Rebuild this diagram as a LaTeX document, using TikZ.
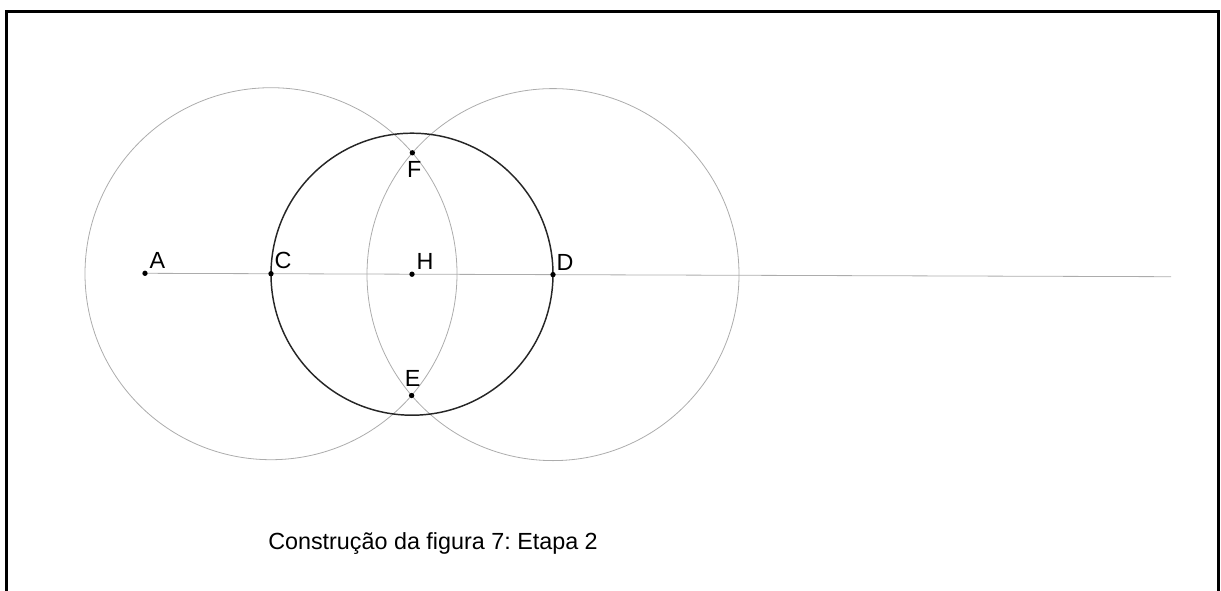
\documentclass[tikz,border=0pt]{standalone}
\usepackage{fontspec}
\setmainfont{Liberation Sans}
\usetikzlibrary{calc,intersections}

\tikzset{
    ponto/.style={circle, fill=black, inner sep=0pt, minimum size=4pt},
    rotulo/.style={font=\fontsize{17.5}{20}\selectfont, inner sep=1pt},
    auxiliar/.style={gray!65, line width=0.6pt},
}

\begin{document}
\frenchspacing
\begin{tikzpicture}[x=0.75pt, y=-0.75pt]
    \useasboundingbox (0,0) rectangle (1221,590);
    % Frame
    \draw[line width=2pt] (6.5,592) -- (6.5,11.5) -- (1218.5,11.5) -- (1218.5,592);
    % Points on the line
    \coordinate (Z) at (1171,276.7);
    \coordinate (A) at (145,273.3);
    \coordinate (C) at (271,273.7);
    \coordinate (H) at (412,274.2);
    \coordinate (D) at (553,274.6);
    % Line
    \draw[auxiliar] (A) -- (Z);
    % Circles
    \draw[auxiliar, name path=cc] (C) circle (186);
    \draw[auxiliar, name path=cd] (D) circle (186);
    \draw[black!85, line width=1.1pt] (H) circle (141);
    % Intersections
    \path[name intersections={of=cc and cd, by={E,F}}];
    % Dots
    \foreach \p in {A,C,H,D,E,F}
        \node[ponto] at (\p) {};
    % Labels
    \node[rotulo, anchor=south west] at ($(A)+(3,-3)$) {A};
    \node[rotulo, anchor=south west] at ($(C)+(2,-3)$) {C};
    \node[rotulo, anchor=south west] at ($(H)+(3,-3)$) {H};
    \node[rotulo, anchor=south west] at ($(D)+(2,-3)$) {D};
    \node[rotulo, anchor=north] at ($(F)+(2,7)$) {F};
    \node[rotulo, anchor=south] at ($(E)+(1,-7)$) {E};
    % Caption
    \node[rotulo, anchor=base west, inner sep=0pt] (legenda) at (268,549) {Construção da figura 7: Etapa 2};
\end{tikzpicture}
\end{document}
